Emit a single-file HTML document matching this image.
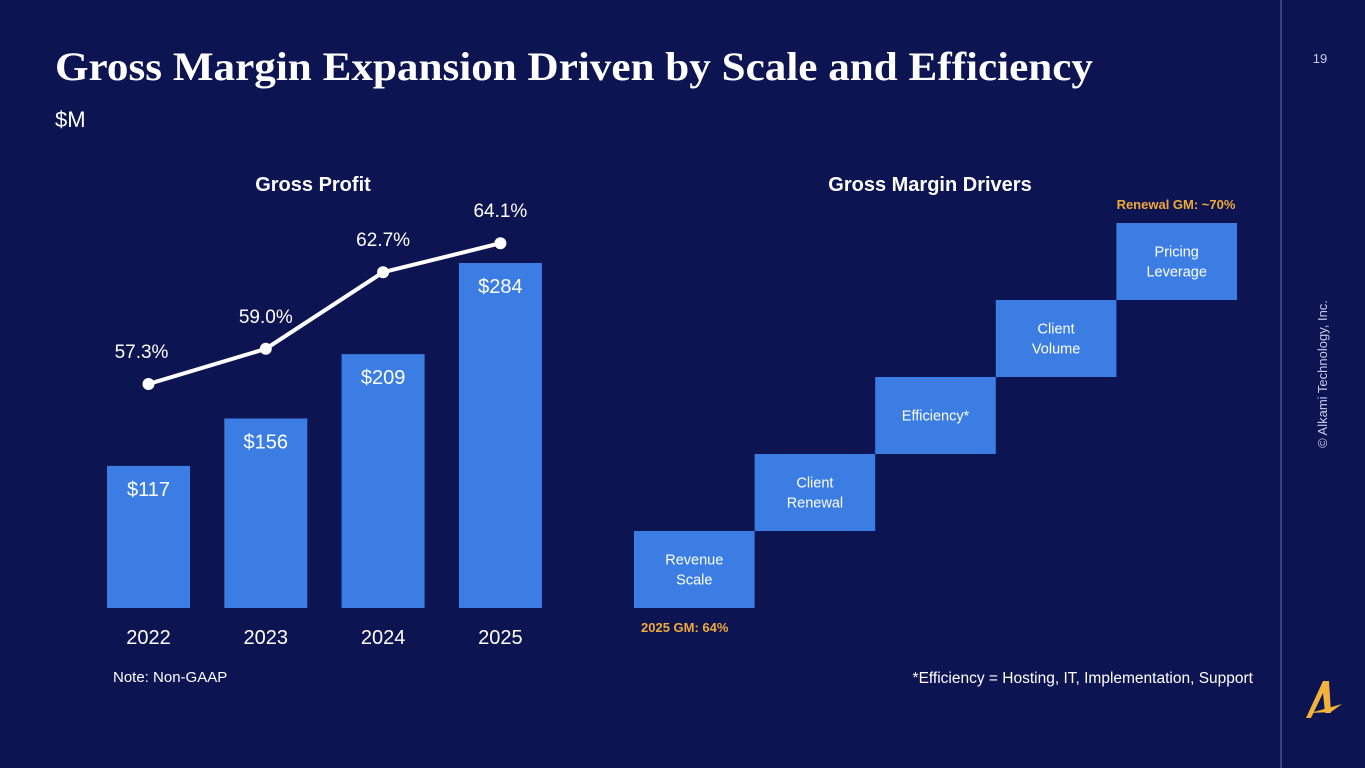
<!DOCTYPE html>
<html><head><meta charset="utf-8">
<style>
html,body{margin:0;padding:0;background:#0c1452;width:1365px;height:768px;overflow:hidden}
svg{display:block;font-family:"Liberation Sans",sans-serif}
</style></head>
<body>
<svg id="s" width="1365" height="768" viewBox="0 0 1365 768">
<rect width="1365" height="768" fill="#0c1452"/>
<text x="55" y="80" font-family="Liberation Serif,serif" font-weight="bold" font-size="40" fill="#fff" textLength="1038" lengthAdjust="spacingAndGlyphs">Gross Margin Expansion Driven by Scale and Efficiency</text>
<text x="55" y="127" font-size="22" fill="#fff">$M</text>
<line x1="1281" y1="0" x2="1281" y2="768" stroke="#3a4580" stroke-width="2"/>
<text x="1320" y="63" font-size="13" fill="#c8cde6" text-anchor="middle">19</text>
<text transform="translate(1327,374) rotate(-90)" font-size="13" fill="#c8cde6" text-anchor="middle">© Alkami Technology, Inc.</text>
<g>
<path d="M1306,718 L1323,681 L1329,681 L1331,713 L1325,713 L1323,693 L1311,718 Z" fill="#f2b33d"/>
<path d="M1310,713 L1342,704 L1331,712 Z" fill="#f2b33d"/>
</g>
<text x="313" y="191" font-size="20" font-weight="bold" fill="#fff" text-anchor="middle">Gross Profit</text>
<text x="930" y="191" font-size="20" font-weight="bold" fill="#fff" text-anchor="middle">Gross Margin Drivers</text>
<g id="gp"></g>
<g id="wf"></g>
<text x="113" y="682" font-size="15" fill="#fff">Note: Non-GAAP</text>
<text x="1253" y="683" font-size="15.5" fill="#fff" text-anchor="end">*Efficiency = Hosting, IT, Implementation, Support</text>
</svg>
<script>
const years = ["2022","2023","2024","2025"];
const profit = [117,156,209,284];
const profitLabels = ["$117","$156","$209","$284"];
const margin = [57.3,59.0,62.7,64.1];
const marginLabels = ["57.3%","59.0%","62.7%","64.1%"];
const drivers = [["Revenue","Scale"],["Client","Renewal"],["Efficiency*"],["Client","Volume"],["Pricing","Leverage"]];

const NS="http://www.w3.org/2000/svg";
function mk(tag,attrs,parent,txt){const e=document.createElementNS(NS,tag);for(const k in attrs)e.setAttribute(k,attrs[k]);if(txt!==undefined)e.textContent=txt;parent.appendChild(e);return e;}
const gp=document.getElementById('gp');
const base=608;
const yBar=v=>base-v*(345/284);
const xCenter=i=>148.5+i*117.3;
const yLine=v=>384-(v-57.3)*20.7;
const bw=83;
years.forEach((y,i)=>{
  const r=mk('rect',{x:xCenter(i)-bw/2,y:yBar(profit[i]),width:bw,height:base-yBar(profit[i]),fill:'#3b7de3'},gp);
  
  
  const t=mk('text',{x:xCenter(i),y:yBar(profit[i])+30,'font-size':20,fill:'#fff','text-anchor':'middle'},gp,profitLabels[i]);
  
  
  const xl=mk('text',{x:xCenter(i),y:644,'font-size':20,fill:'#fff','text-anchor':'middle'},gp,y);
  
  
});
const pts=margin.map((m,i)=>[xCenter(i),yLine(m)]);
const pl=mk('polyline',{points:pts.map(p=>p.join(',')).join(' '),fill:'none',stroke:'#fff','stroke-width':4,'stroke-linejoin':'round'},gp);


pts.forEach((p,i)=>{
  const c=mk('circle',{cx:p[0],cy:p[1],r:6,fill:'#fff'},gp);
  
  
  const t=mk('text',{x:p[0]-(i===0?7:0),y:p[1]-26,'font-size':19,fill:'#fff','text-anchor':'middle'},gp,marginLabels[i]);
  
  
});
const wf=document.getElementById('wf');
const bx=i=>634+i*120.6, by=i=>531-i*77;
drivers.forEach((d,i)=>{
  const r=mk('rect',{x:bx(i),y:by(i),width:120.6,height:77,fill:'#3b7de3'},wf);
  
  
  const cx=bx(i)+60.3, cy=by(i)+38.5;
  d.forEach((line,j)=>{
    const t=mk('text',{x:cx,y:cy+5+(j-(d.length-1)/2)*20,'font-size':14.5,fill:'#fff','text-anchor':'middle'},wf,line);
    
    
  });
});
const a=mk('text',{x:641,y:632,'font-size':13,'font-weight':'bold',fill:'#f0a93a'},wf,'2025 GM: 64%');


const b=mk('text',{x:1176,y:209,'font-size':13,'font-weight':'bold',fill:'#f0a93a','text-anchor':'middle'},wf,'Renewal GM: ~70%');


</script>
</body></html>
